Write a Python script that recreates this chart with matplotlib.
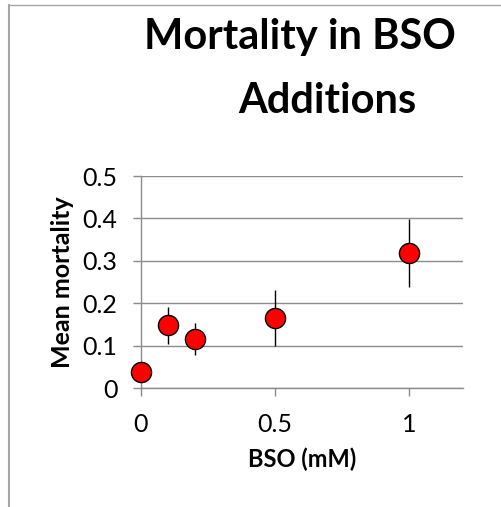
import matplotlib
matplotlib.use('Agg')
import matplotlib.pyplot as plt
from matplotlib.lines import Line2D

plt.rcParams['font.family'] = ['Lato', 'DejaVu Sans']

bso = [0, 0.1, 0.2, 0.5, 1.0]
mortality = [0.038, 0.148, 0.115, 0.165, 0.319]
err_err = [0.01, 0.044, 0.038, 0.066, 0.08]
yticks = [0, 0.1, 0.2, 0.3, 0.4, 0.5]
xticks = [0, 0.5, 1]

W, H = 501, 507
fig = plt.figure(figsize=(W / 100, H / 100), dpi=100)
ax = fig.add_axes([141 / W, 1 - 388 / H, (463 - 141) / W, (388 - 176) / H])

grid_col = '#8c8c8c'
ax.errorbar(bso, mortality, yerr=err_err, fmt='none', ecolor='black', elinewidth=1.0, capsize=0, zorder=3)
ax.plot(bso, mortality, 'o', markersize=14.5, markerfacecolor='#ff0000', markeredgecolor='black',
        markeredgewidth=1.0, zorder=4, clip_on=False)

ax.set_xlim(0, 1.2)
ax.set_ylim(0, 0.5)
ax.set_xticks(xticks)
ax.set_xticklabels(['0', '0.5', '1'])
ax.set_yticks(yticks)
ax.set_yticklabels(['0', '0.1', '0.2', '0.3', '0.4', '0.5'])
ax.yaxis.grid(True, color=grid_col, linewidth=1.0)
ax.set_axisbelow(True)
for s in ['top', 'right']:
    ax.spines[s].set_visible(False)
for s in ['left', 'bottom']:
    ax.spines[s].set_color(grid_col)
    ax.spines[s].set_linewidth(1.0)
ax.tick_params(axis='both', colors=grid_col, length=6, width=1.0, labelcolor='black', labelsize=18)
ax.tick_params(axis='x', pad=12)
ax.tick_params(axis='y', pad=11)

ax.set_xlabel('BSO (mM)', fontsize=17, fontweight='bold', labelpad=8)
ax.set_ylabel('Mean mortality', fontsize=18, fontweight='bold', labelpad=6)

fig.text(300 / W, 1 - 37 / H, 'Mortality in BSO', ha='center', va='center', fontsize=30, fontweight='bold')
fig.text(327 / W, 1 - 101 / H, 'Additions', ha='center', va='center', fontsize=30, fontweight='bold')

# outer chart frame (left and top edges visible)
fig.add_artist(Line2D([9 / W, 9 / W], [0, 1 - 5 / H], transform=fig.transFigure, color='#a6a6a6', linewidth=1.5))
fig.add_artist(Line2D([9 / W, 1], [1 - 5 / H, 1 - 5 / H], transform=fig.transFigure, color='#a6a6a6', linewidth=1.0))

fig.savefig('out.png', dpi=100)
